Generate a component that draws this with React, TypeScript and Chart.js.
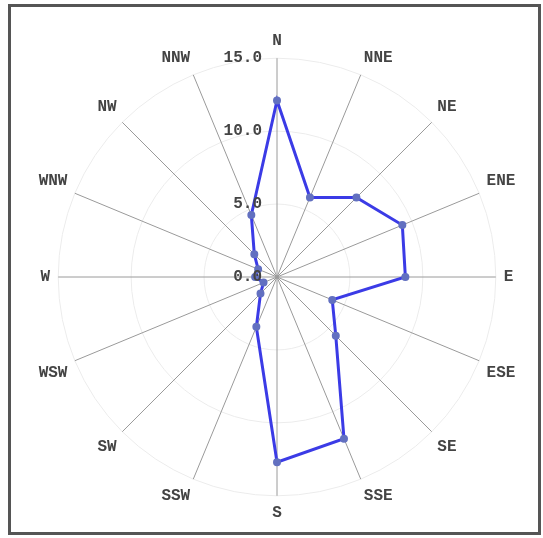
import React, { useEffect, useRef } from "react";
import { Chart, registerables } from "chart.js";

Chart.register(...registerables);

const directions = ["N", "NNE", "NE", "ENE", "E", "ESE", "SE", "SSE", "S", "SSW", "SW", "WSW", "W", "WNW", "NW", "NNW"];
const frequencies = [12.1, 5.9, 7.7, 9.3, 8.8, 4.1, 5.7, 12.0, 12.7, 3.7, 1.6, 1.0, 1.5, 1.4, 2.2, 4.6];
const tickValues = [0, 5, 10, 15];

const FONT = "'Liberation Mono', 'DejaVu Sans Mono', monospace";

const tickLabelPlugin = {
  id: "tickLabels",
  afterDatasetsDraw(chart: any) {
    const s = chart.scales.r;
    const ctx = chart.ctx;
    ctx.save();
    ctx.font = `bold 16px ${FONT}`;
    ctx.fillStyle = "#444";
    ctx.textAlign = "right";
    ctx.textBaseline = "middle";
    tickValues.forEach((v) => {
      const d = s.getDistanceFromCenterForValue(v);
      ctx.fillText(v.toFixed(1), s.xCenter - 15, s.yCenter - d);
    });
    ctx.restore();
  },
};

export default function App() {
  const ref = useRef<HTMLCanvasElement>(null);
  useEffect(() => {
    const chart = new Chart(ref.current!, {
      type: "radar",
      data: {
        labels: directions,
        datasets: [
          {
            data: frequencies,
            borderColor: "#3b3be6",
            borderWidth: 3,
            pointRadius: 2.5,
            pointBackgroundColor: "#6270c0",
            pointBorderColor: "#6270c0",
            fill: false,
            tension: 0,
          },
        ],
      },
      options: {
        animation: false,
        responsive: false,
        layout: { padding: { left: 18, right: 13, top: 24, bottom: 8 } },
        plugins: { legend: { display: false }, tooltip: { enabled: false } },
        scales: {
          r: {
            min: 0,
            max: 15,
            ticks: { stepSize: 5, display: false },
            grid: { color: "#ececec", lineWidth: 1, circular: true },
            angleLines: { color: "#9a9a9a", lineWidth: 1 },
            pointLabels: {
              font: { family: FONT, size: 16, weight: "bold" },
              color: "#444",
              padding: 8,
            },
          },
        },
      },
      plugins: [tickLabelPlugin],
    });
    return () => chart.destroy();
  }, []);
  return (
    <div
      style={{
        position: "fixed",
        left: 8,
        top: 4,
        width: 527,
        height: 525,
        border: "3px solid #555",
        background: "#fff",
      }}
    >
      <canvas ref={ref} width={527} height={525} style={{ display: "block" }} />
    </div>
  );
}
